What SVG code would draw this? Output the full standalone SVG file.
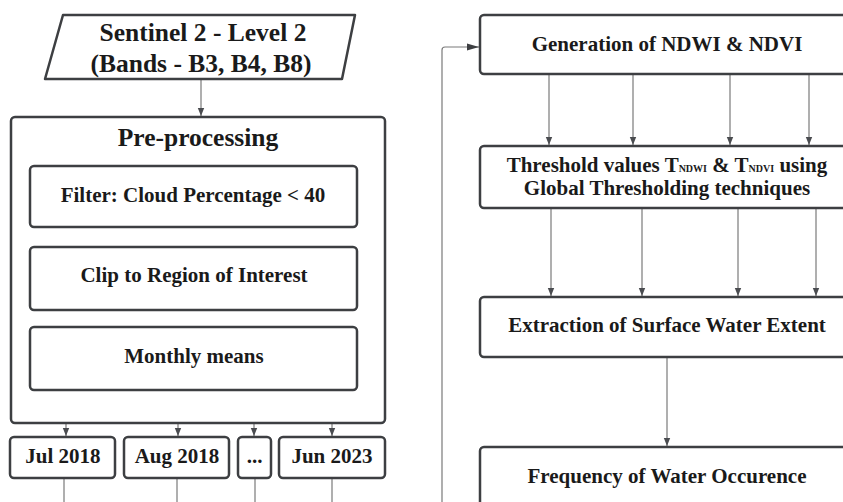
<svg xmlns="http://www.w3.org/2000/svg" width="843" height="502" viewBox="0 0 843 502" font-family="'Liberation Serif', 'DejaVu Serif', serif">
  <style>
    .box { fill: #ffffff; stroke: #3d3f42; stroke-width: 2.5; }
    .lbl { font-family: 'Liberation Serif', 'DejaVu Serif', serif; font-weight: bold; fill: #1a1a1a; text-anchor: middle; }
    .t21 { font-size: 21px; }
    .t25 { font-size: 25.5px; }
    .sub { font-size: 10px; }
    .wire { fill: none; stroke: #7a7a7a; stroke-width: 1.2; }
  </style>
  <defs>
    <marker id="tip" markerUnits="userSpaceOnUse" viewBox="0 0 8 8" refX="8" refY="4" markerWidth="8" markerHeight="8" orient="auto">
      <path d="M0,0.8 L8,4 L0,7.2 z" fill="#4a4c50"/>
    </marker>
    <marker id="tipBig" markerUnits="userSpaceOnUse" viewBox="0 0 12 8" refX="12" refY="4" markerWidth="12" markerHeight="8" orient="auto">
      <path d="M0,0.5 L12,4 L0,7.5 z" fill="#3d3f42"/>
    </marker>
  </defs>
  <rect width="843" height="502" fill="#ffffff"/>

  <!-- connectors -->
  <g id="connectors">
    <path class="wire" d="M201,80 V116" marker-end="url(#tip)"/>
    <!-- monthly means to each month -->
    <path class="wire" d="M66,391 V436" marker-end="url(#tip)"/>
    <path class="wire" d="M178,391 V436" marker-end="url(#tip)"/>
    <path class="wire" d="M254,391 V436" marker-end="url(#tip)"/>
    <path class="wire" d="M332,391 V436" marker-end="url(#tip)"/>
    <!-- month outputs running down -->
    <path class="wire" d="M64,479 V502"/>
    <path class="wire" d="M177,479 V502"/>
    <path class="wire" d="M255,479 V502"/>
    <path class="wire" d="M332,479 V502"/>
    <!-- feedback into index generation -->
    <path class="wire" d="M442,502 V50 Q442,47 445,47 H479" marker-end="url(#tipBig)"/>
    <!-- indices to thresholds -->
    <path class="wire" d="M549,75 V145" marker-end="url(#tip)"/>
    <path class="wire" d="M633,75 V145" marker-end="url(#tip)"/>
    <path class="wire" d="M730,75 V145" marker-end="url(#tip)"/>
    <path class="wire" d="M809,75 V145" marker-end="url(#tip)"/>
    <!-- thresholds to extraction -->
    <path class="wire" d="M551,209 V296" marker-end="url(#tip)"/>
    <path class="wire" d="M642,209 V296" marker-end="url(#tip)"/>
    <path class="wire" d="M738,209 V296" marker-end="url(#tip)"/>
    <path class="wire" d="M816,209 V296" marker-end="url(#tip)"/>
    <!-- extraction to frequency -->
    <path class="wire" d="M667,358 V446" marker-end="url(#tip)"/>
  </g>

  <!-- input data -->
  <g id="sentinel">
    <polygon class="box" points="63,15 355,15 342,79 45,79" stroke-linejoin="round"/>
    <text class="lbl t25" x="203" y="41">Sentinel 2 - Level 2</text>
    <text class="lbl t25" x="201" y="72">(Bands - B3, B4, B8)</text>
  </g>

  <!-- pre-processing container and its steps -->
  <g id="preprocessing">
    <rect class="box" x="11" y="117" width="374" height="306" rx="4"/>
    <text class="lbl t25" x="198" y="146">Pre-processing</text>
  </g>
  <g id="filter">
    <rect class="box" x="30" y="166" width="327" height="61" rx="4"/>
    <text class="lbl t21" x="193" y="202">Filter: Cloud Percentage &lt; 40</text>
  </g>
  <g id="clip">
    <rect class="box" x="30" y="247" width="327" height="63" rx="4"/>
    <text class="lbl t21" x="194" y="282">Clip to Region of Interest</text>
  </g>
  <g id="monthly">
    <rect class="box" x="30" y="327" width="327" height="63" rx="4"/>
    <text class="lbl t21" x="194" y="363">Monthly means</text>
  </g>

  <!-- monthly composites -->
  <g id="jul2018">
    <rect class="box" x="10" y="437" width="105" height="41" rx="4"/>
    <text class="lbl t21" x="63" y="463">Jul 2018</text>
  </g>
  <g id="aug2018">
    <rect class="box" x="124" y="437" width="105" height="41" rx="4"/>
    <text class="lbl t21" x="177" y="463">Aug 2018</text>
  </g>
  <g id="ellipsis">
    <rect class="box" x="238" y="437" width="33" height="41" rx="4"/>
    <text class="lbl t21" x="254.5" y="463">...</text>
  </g>
  <g id="jun2023">
    <rect class="box" x="279" y="437" width="106" height="41" rx="4"/>
    <text class="lbl t21" x="332" y="463">Jun 2023</text>
  </g>

  <!-- water extraction steps -->
  <g id="indices">
    <rect class="box" x="480" y="15" width="380" height="59" rx="4"/>
    <text class="lbl t21" x="667" y="51">Generation of NDWI &amp; NDVI</text>
  </g>
  <g id="threshold">
    <rect class="box" x="480" y="146" width="380" height="62" rx="4"/>
    <text class="lbl t21" x="667" y="172">Threshold values T<tspan class="sub">NDWI</tspan> &amp; T<tspan class="sub">NDVI</tspan> using</text>
    <text class="lbl t21" x="667" y="195">Global Thresholding techniques</text>
  </g>
  <g id="extraction">
    <rect class="box" x="480" y="297" width="380" height="60" rx="4"/>
    <text class="lbl t21" x="667" y="332">Extraction of Surface Water Extent</text>
  </g>
  <g id="frequency">
    <rect class="box" x="480" y="447" width="380" height="70" rx="4"/>
    <text class="lbl t21" x="667" y="483">Frequency of Water Occurence</text>
  </g>
</svg>
